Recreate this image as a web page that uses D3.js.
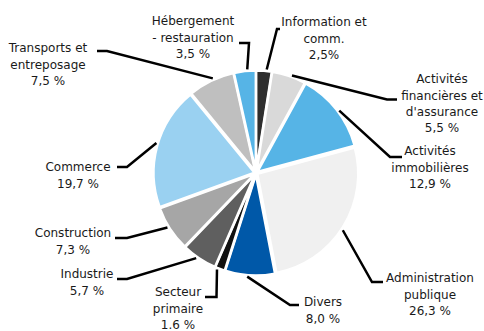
<!DOCTYPE html>
<html>
<head>
<meta charset="utf-8">
<script src="https://cdn.jsdelivr.net/npm/d3@7"></script>
<style>
  html, body { margin: 0; padding: 0; background: #ffffff; }
  svg { display: block; }
  text { font-family: "DejaVu Sans", Verdana, sans-serif; font-size: 12px; fill: #1a1a1a; }
</style>
</head>
<body>
<svg id="chart" width="484" height="331"></svg>
<script>
// Sectors, clockwise from 12 o'clock
const sectors = [
  "Information et comm.",
  "Activités financières et d'assurance",
  "Activités immobilières",
  "Administration publique",
  "Divers",
  "Secteur primaire",
  "Industrie",
  "Construction",
  "Commerce",
  "Transports et entreposage",
  "Hébergement - restauration"
];
const shares = [2.5, 5.5, 12.9, 26.3, 8.0, 1.6, 5.7, 7.3, 19.7, 7.5, 3.5];
const labelLines = [
  ["Information et", "comm.", "2,5%"],
  ["Activités", "financières et", "d'assurance", "5,5 %"],
  ["Activités", "immobilières", "12,9 %"],
  ["Administration", "publique", "26,3 %"],
  ["Divers", "8,0 %"],
  ["Secteur", "primaire", "1.6 %"],
  ["Industrie", "5,7 %"],
  ["Construction", "7,3 %"],
  ["Commerce", "19,7 %"],
  ["Transports et", "entreposage", "7,5 %"],
  ["Hébergement", "- restauration", "3,5 %"]
];
const sliceColors = [
  "#2e2e2e", "#d9d9d9", "#56b4e6", "#f0f0f0", "#0058a8", "#111111",
  "#5f5f5f", "#a6a6a6", "#9ad1f1", "#bfbfbf", "#56b4e6"
];

// Label placement: text centre (x, first-line y) and leader bend points
const labelLayout = [
  { x: 324, y: 22,  bend: [[277, 29], [280, 29]] },
  { x: 442, y: 79,  bend: [[387, 99.5], [397, 99.5]] },
  { x: 430, y: 151, bend: [[390, 157], [402, 157]] },
  { x: 430, y: 278, bend: [[372, 282], [383, 282]] },
  { x: 323, y: 302, bend: [[290, 305], [299, 305]] },
  { x: 178, y: 292, bend: [[216.5, 297], [205, 297]] },
  { x: 87,  y: 274, bend: [[127, 279], [117, 279]] },
  { x: 73,  y: 233, bend: [[127, 238], [115, 238]] },
  { x: 78,  y: 167, bend: [[127, 167], [117, 167]] },
  { x: 48,  y: 48,  bend: [[107, 51], [97, 51]] },
  { x: 193, y: 21,  bend: [[249, 43], [239, 43]] }
];

const cx = 256, cy = 173, radius = 101;
const explode = 1.5;
const lineGap = 16.3;

const svg = d3.select("#chart");
const g = svg.append("g").attr("transform", `translate(${cx},${cy})`);

const pie = d3.pie().sort(null).value(d => d)
  .startAngle(0).endAngle(2 * Math.PI);
const arcs = pie(shares);

const arc = d3.arc().innerRadius(0).outerRadius(radius);
const mid = d => (d.startAngle + d.endAngle) / 2;

g.selectAll("path.slice")
  .data(arcs)
  .join("path")
  .attr("class", "slice")
  .attr("d", arc)
  .attr("transform", d => `translate(${explode * Math.sin(mid(d))},${-explode * Math.cos(mid(d))})`)
  .attr("fill", (d, i) => sliceColors[i])
  .attr("stroke", "#ffffff")
  .attr("stroke-width", 2.5)
  .attr("stroke-linejoin", "miter");

// Leader lines start on the rim, near each slice's mid-angle
const rimPoint = d => {
  const a = mid(d) + 0.025;
  const r = radius + 3;
  return [cx + r * Math.sin(a), cy - r * Math.cos(a)];
};

const line = d3.line();
svg.append("g")
  .selectAll("path.leader")
  .data(arcs)
  .join("path")
  .attr("class", "leader")
  .attr("d", (d, i) => line([rimPoint(d), ...labelLayout[i].bend]))
  .attr("fill", "none")
  .attr("stroke", "#000000")
  .attr("stroke-width", 2.5);

// Labels
const labels = svg.append("g")
  .selectAll("text.label")
  .data(arcs)
  .join("text")
  .attr("class", "label")
  .attr("text-anchor", "middle");

labels.each(function (d, i) {
  const t = d3.select(this);
  const pos = labelLayout[i];
  labelLines[i].forEach((s, k) => {
    t.append("tspan")
      .attr("x", pos.x)
      .attr("y", pos.y + k * lineGap + 4.4)
      .text(s);
  });
});
</script>
</body>
</html>
